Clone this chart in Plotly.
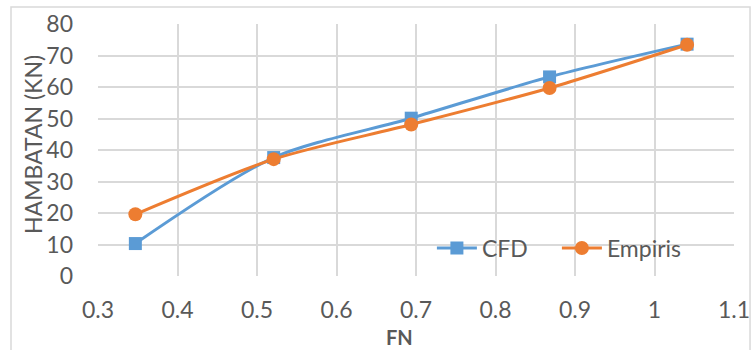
import plotly.graph_objects as go

fn = [0.347, 0.521, 0.694, 0.868, 1.041]
cfd = [10.3, 37.6, 50.1, 63.2, 73.6]
empiris = [19.6, 37.1, 48.1, 59.7, 73.4]

x_ticks = [0.3, 0.4, 0.5, 0.6, 0.7, 0.8, 0.9, 1.0, 1.1]
x_labels = ["0.3", "0.4", "0.5", "0.6", "0.7", "0.8", "0.9", "1", "1.1"]

BLUE = "#5B9BD5"
ORANGE = "#ED7D31"
TXT = "#595959"
GRID = "#D9D9D9"
FONT = "Lato"
FS = 23

fig = go.Figure()
fig.add_trace(go.Scatter(
    x=fn, y=cfd, name="CFD", mode="lines+markers",
    line=dict(color=BLUE, width=3, shape="spline", smoothing=0.8),
    marker=dict(symbol="square", size=13, color=BLUE),
))
fig.add_trace(go.Scatter(
    x=fn, y=empiris, name="Empiris", mode="lines+markers",
    line=dict(color=ORANGE, width=3, shape="spline", smoothing=0.8),
    marker=dict(symbol="circle", size=14, color=ORANGE),
))

fig.update_layout(
    width=755, height=350,
    margin=dict(l=98, r=21, t=24, b=74, autoexpand=False),
    paper_bgcolor="white", plot_bgcolor="white",
    font=dict(family=FONT, size=FS, color=TXT),
    showlegend=True,
    legend=dict(
        orientation="h", x=0.525, y=0.111, xanchor="left", yanchor="middle",
        bgcolor="rgba(0,0,0,0)", font=dict(family=FONT, size=FS, color=TXT),
        itemwidth=40, tracegroupgap=0,
        entrywidth=70, entrywidthmode="pixels",
    ),
    xaxis=dict(
        range=[0.3, 1.1], tickvals=x_ticks, ticktext=x_labels,
        showgrid=True, gridcolor=GRID, gridwidth=1.5,
        zeroline=False, showline=False, ticks="",
        ticklabelstandoff=18,
        tickfont=dict(family=FONT, size=FS, color=TXT),
    ),
    yaxis=dict(
        range=[0, 80], dtick=10,
        showgrid=True, gridcolor=GRID, gridwidth=1.5,
        zeroline=False, showline=False, ticks="",
        ticklabelstandoff=24,
        tickfont=dict(family=FONT, size=FS, color=TXT),
    ),
    shapes=[
        dict(type="rect", xref="paper", yref="paper",
             x0=-0.1368, x1=1.0252, y0=-0.35, y1=1.0675,
             line=dict(color=GRID, width=1.5), fillcolor="rgba(0,0,0,0)", layer="below"),
    ],
    annotations=[
        dict(text="HAMBATAN (KN)", xref="paper", yref="paper",
             x=(33 - 98) / 636, y=(276 - 145) / 252, textangle=-90,
             showarrow=False, xanchor="center", yanchor="middle",
             font=dict(family=FONT, size=FS, color=TXT)),
        dict(text="<b>FN</b>", xref="paper", yref="paper",
             x=(399 - 98) / 636, y=(276 - 337) / 252,
             showarrow=False, xanchor="center", yanchor="middle",
             font=dict(family=FONT, size=20, color=TXT)),
    ],
)

fig.write_html("out.html")
